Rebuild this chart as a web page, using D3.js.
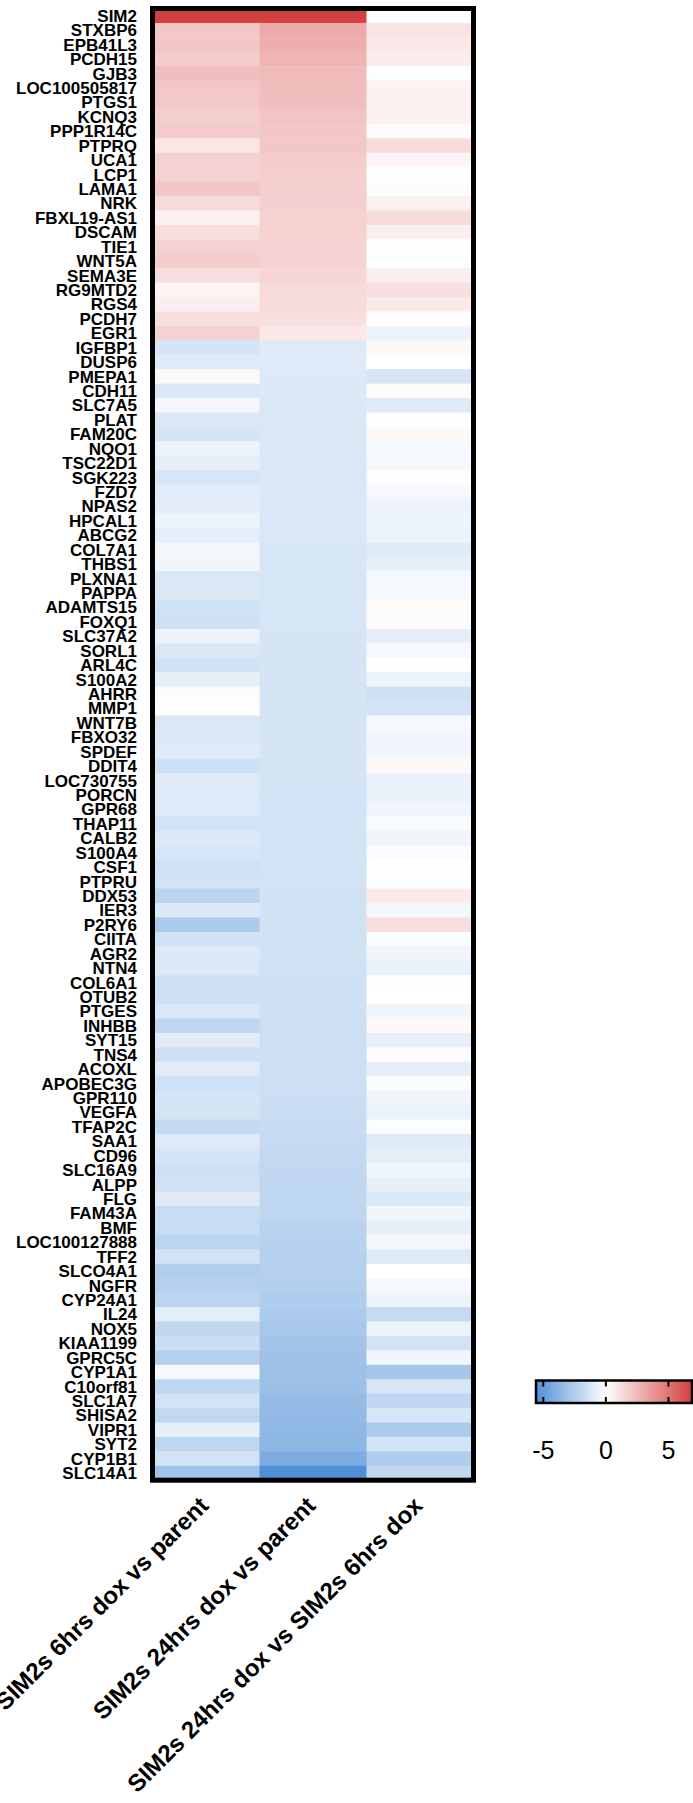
<!DOCTYPE html>
<html><head><meta charset="utf-8">
<script src="https://cdn.jsdelivr.net/npm/d3@7"></script>
<style>
html,body{margin:0;padding:0;background:#fff;}
svg{display:block;}
text{font-family:"Liberation Sans",Arial,Helvetica,sans-serif;}
</style></head>
<body>
<script>
const genes = ["SIM2","STXBP6","EPB41L3","PCDH15","GJB3","LOC100505817","PTGS1","KCNQ3","PPP1R14C","PTPRQ",
"UCA1","LCP1","LAMA1","NRK","FBXL19-AS1","DSCAM","TIE1","WNT5A","SEMA3E","RG9MTD2",
"RGS4","PCDH7","EGR1","IGFBP1","DUSP6","PMEPA1","CDH11","SLC7A5","PLAT","FAM20C",
"NQO1","TSC22D1","SGK223","FZD7","NPAS2","HPCAL1","ABCG2","COL7A1","THBS1","PLXNA1",
"PAPPA","ADAMTS15","FOXQ1","SLC37A2","SORL1","ARL4C","S100A2","AHRR","MMP1","WNT7B",
"FBXO32","SPDEF","DDIT4","LOC730755","PORCN","GPR68","THAP11","CALB2","S100A4","CSF1",
"PTPRU","DDX53","IER3","P2RY6","CIITA","AGR2","NTN4","COL6A1","OTUB2","PTGES",
"INHBB","SYT15","TNS4","ACOXL","APOBEC3G","GPR110","VEGFA","TFAP2C","SAA1","CD96",
"SLC16A9","ALPP","FLG","FAM43A","BMF","LOC100127888","TFF2","SLCO4A1","NGFR","CYP24A1",
"IL24","NOX5","KIAA1199","GPRC5C","CYP1A1","C10orf81","SLC1A7","SHISA2","VIPR1","SYT2",
"CYP1B1","SLC14A1"];

const conditions = ["SIM2s 6hrs dox vs parent","SIM2s 24hrs dox vs parent","SIM2s 24hrs dox vs SIM2s 6hrs dox"];

const dox6vsParent = [6.8,2.0,2.0,1.8,2.3,2.0,1.9,1.7,1.8,0.9,
1.6,1.6,2.0,1.3,0.5,1.15,1.6,1.8,1.2,0.35,
0.6,1.15,1.6,-1.3,-1.05,0.25,-1.2,-0.35,-1.15,-1.3,
-0.6,-0.8,-1.25,-0.95,-0.9,-0.55,-0.8,-0.4,-0.45,-1.15,
-1.15,-1.5,-1.55,-0.6,-1.15,-1.45,-0.75,0.15,0.02,-1.2,
-1.1,-1.0,-1.55,-1.0,-1.0,-1.05,-1.4,-1.1,-1.25,-1.5,
-1.4,-2.15,-1.1,-2.6,-1.45,-1.1,-1.1,-1.55,-1.55,-1.2,
-2.0,-0.95,-1.55,-0.95,-1.5,-1.3,-1.3,-1.85,-1.05,-1.3,
-1.55,-1.45,-1.05,-1.7,-1.7,-2.15,-1.4,-2.45,-2.35,-2.15,
-0.85,-1.95,-1.65,-2.35,-0.25,-2.0,-1.4,-1.95,-0.75,-2.05,
-1.4,-3.0];

const dox24vsParent = [6.8,3.0,2.85,2.65,2.4,2.35,2.3,2.1,2.0,2.0,
1.8,1.75,1.7,1.7,1.65,1.65,1.6,1.55,1.5,1.3,
1.25,1.1,0.8,-1.05,-1.05,-1.1,-1.1,-1.15,-1.15,-1.15,
-1.15,-1.2,-1.2,-1.2,-1.2,-1.2,-1.2,-1.25,-1.25,-1.25,
-1.25,-1.25,-1.25,-1.3,-1.3,-1.3,-1.3,-1.3,-1.3,-1.3,
-1.3,-1.3,-1.35,-1.35,-1.4,-1.4,-1.4,-1.4,-1.4,-1.4,
-1.4,-1.45,-1.45,-1.45,-1.45,-1.45,-1.5,-1.55,-1.55,-1.55,
-1.6,-1.6,-1.6,-1.6,-1.6,-1.65,-1.7,-1.75,-1.8,-1.9,
-1.95,-2.0,-2.0,-2.05,-2.2,-2.25,-2.3,-2.35,-2.4,-2.5,
-2.6,-2.75,-2.9,-3.0,-3.05,-3.1,-3.3,-3.4,-3.5,-3.6,
-4.1,-5.5];

const dox24vs6 = [0.05,0.95,0.8,0.7,0.05,0.45,0.5,0.5,0.15,1.25,
0.35,0.05,-0.15,0.5,1.25,0.6,-0.05,-0.1,0.6,1.1,
0.75,0.02,-0.6,0.3,0.0,-1.3,0.15,-1.05,-0.1,0.2,
-0.3,-0.3,0.1,-0.3,-0.6,-0.55,-0.6,-1.0,-0.75,-0.3,
-0.3,0.15,0.15,-0.8,-0.3,0.03,-0.6,-1.55,-1.4,-0.3,
-0.45,-0.45,0.2,-0.7,-0.7,-0.5,-0.2,-0.5,-0.2,-0.05,
-0.05,0.75,-0.4,1.2,-0.15,-0.45,-0.7,-0.05,0.0,-0.45,
0.2,-0.75,-0.15,-0.8,-0.15,-0.45,-0.7,-0.1,-1.05,-0.8,
-0.45,-0.75,-1.1,-0.45,-0.75,-0.35,-1.1,0.0,-0.3,-0.6,
-1.8,-0.6,-1.4,-0.45,-2.8,-1.25,-2.0,-1.25,-2.6,-1.4,
-2.5,-1.95];

const legendTicks = [-5, 0, 5];
const colorDomain = [-5.5, 0, 6.8];
const colorRange = ["#5090d6", "#ffffff", "#d4403e"];

const W = 693, H = 1803;
const svg = d3.select("body").append("svg").attr("width", W).attr("height", H);

const series = [dox6vsParent, dox24vsParent, dox24vs6];
const cells = [];
genes.forEach((g, i) => series.forEach((s, j) => cells.push({gene: g, cond: conditions[j], v: s[i]})));

const x = d3.scaleBand().domain(conditions).range([152.5, 473.5]);
const y = d3.scaleBand().domain(genes).range([8.5, 1480.2]);
const color = d3.scaleLinear().domain(colorDomain).range(colorRange).interpolate(d3.interpolateRgb);

svg.append("g").selectAll("rect").data(cells).join("rect")
  .attr("x", d => x(d.cond))
  .attr("y", d => y(d.gene))
  .attr("width", x.bandwidth() + 0.5)
  .attr("height", y.bandwidth() + 0.5)
  .attr("fill", d => color(d.v));

svg.append("rect")
  .attr("x", 152.5).attr("y", 8.5)
  .attr("width", 321).attr("height", 1480.2 - 8.5)
  .attr("fill", "none").attr("stroke", "#000").attr("stroke-width", 5);

// row labels
svg.append("g").selectAll("text").data(genes).join("text")
  .attr("x", 137)
  .attr("y", d => y(d) + y.bandwidth() / 2)
  .attr("dy", "0.36em")
  .attr("text-anchor", "end")
  .attr("font-size", 17).attr("font-weight", "bold")
  .attr("fill", "#000")
  .text(d => d);

// column labels
svg.append("g").selectAll("text").data(conditions).join("text")
  .attr("transform", d => `translate(${x(d) + x.bandwidth() / 2 + 4},1507) rotate(-45)`)
  .attr("text-anchor", "end")
  .attr("font-size", 24).attr("font-weight", "bold")
  .attr("fill", "#000")
  .text(d => d);

// legend
const lx = d3.scaleLinear().domain([colorDomain[0], colorDomain[2]]).range([537, 691]);
const defs = svg.append("defs");
const grad = defs.append("linearGradient").attr("id", "lg").attr("x1", "0%").attr("x2", "100%");
d3.range(0, 1.0001, 0.05).forEach(t => {
  const v = colorDomain[0] + t * (colorDomain[2] - colorDomain[0]);
  grad.append("stop").attr("offset", (t * 100) + "%").attr("stop-color", color(v));
});
const ly0 = 1380.5, ly1 = 1403;
svg.append("rect")
  .attr("x", lx.range()[0] - 1).attr("y", ly0)
  .attr("width", lx.range()[1] - lx.range()[0] + 2).attr("height", ly1 - ly0)
  .attr("fill", "url(#lg)").attr("stroke", "#000").attr("stroke-width", 2.5);
const tg = svg.append("g");
legendTicks.forEach(t => {
  tg.append("line").attr("x1", lx(t)).attr("x2", lx(t)).attr("y1", ly0).attr("y2", ly0 + 6)
    .attr("stroke", "#000").attr("stroke-width", 2);
  tg.append("line").attr("x1", lx(t)).attr("x2", lx(t)).attr("y1", ly1 - 6).attr("y2", ly1)
    .attr("stroke", "#000").attr("stroke-width", 2);
  tg.append("text").attr("x", lx(t)).attr("y", 1459)
    .attr("text-anchor", "middle").attr("font-size", 25).attr("fill", "#000")
    .text(t);
});
</script>
</body></html>
